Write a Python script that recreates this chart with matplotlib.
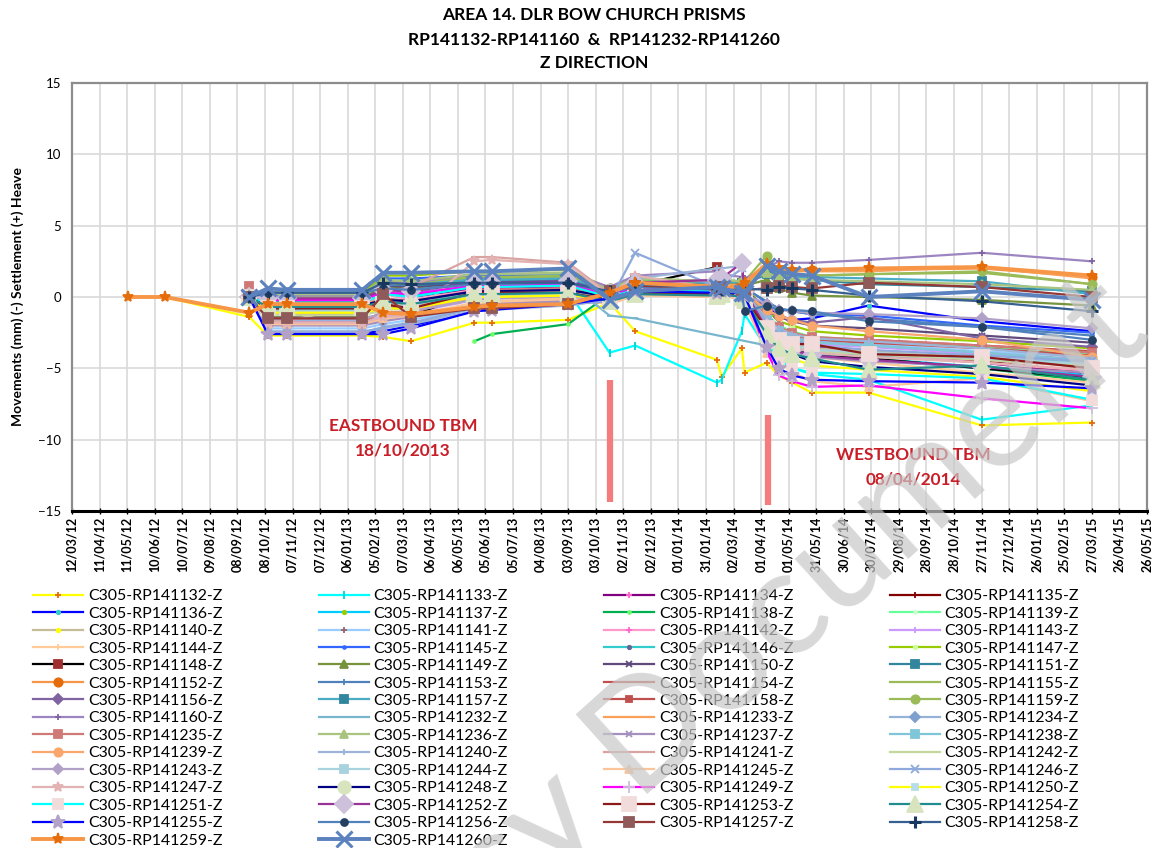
import numpy as np
import pandas as pd
import matplotlib
matplotlib.use("Agg")
import matplotlib.pyplot as plt
import matplotlib.dates as mdates

plt.rcParams['font.family'] = ['Lato', 'DejaVu Sans']

nan = np.nan

# ---------------- data ----------------
dates = ['2012-05-12', '2012-06-21', '2012-09-21', '2012-10-11', '2012-11-01', '2013-01-22',
         '2013-02-14', '2013-03-16', '2013-05-24', '2013-06-12', '2013-09-03', '2013-10-18',
         '2013-11-15', '2014-02-12', '2014-02-17', '2014-03-11', '2014-03-14', '2014-04-07',
         '2014-04-20', '2014-05-05', '2014-05-26', '2014-07-27', '2014-11-27', '2015-03-27']

s132 = [nan, 0.0, -1.4, -2.7, -2.7, -2.7, -2.8, -3.1, -1.8, -1.8, -1.6, -0.4, -2.4, -4.4, -5.6, -3.6, -5.3, -4.6, -5.5, -6.0, -6.7, -6.7, -9.0, -8.8]
s133 = [nan, nan, 0.0, -0.3, -0.3, -0.3, -0.2, -0.2, 0.3, 0.3, 0.4, -3.9, -3.4, -6.0, -5.8, -2.4, -1.2, -3.6, -4.6, -5.0, -5.4, -5.8, -8.6, -7.6]
s134 = [nan, nan, 0.0, 0.1, 0.1, 0.1, 0.4, 0.0, 0.6, 0.6, 0.7, 0.3, 0.6, 0.4, 0.5, 0.6, 0.5, -1.6, -2.6, -3.0, -3.4, -4.0, -4.6, -5.4]
s135 = [nan, nan, 0.0, -0.9, -0.9, -0.9, -0.5, -1.0, 0.2, 0.2, 0.3, 0.0, 0.7, 0.5, 0.6, 0.4, 0.3, -1.8, -2.8, -3.2, -3.6, -3.9, -4.5, -5.3]
s136 = [nan, nan, 0.0, -2.5, -2.5, -2.5, -2.4, -2.0, -1.0, -0.9, -0.3, 0.0, 0.5, 0.6, 0.5, 0.4, 0.2, -0.6, -1.3, -1.6, -1.5, -0.6, -1.7, -2.4]
s137 = [nan, nan, 0.0, -0.4, -0.4, -0.4, 0.3, 0.1, 0.8, 0.8, 0.9, 0.1, 0.9, 0.7, 0.8, 0.6, 0.4, -2.2, -3.0, -3.5, -3.9, -4.3, -4.9, -5.5]
s138 = [nan, nan, nan, nan, nan, nan, nan, nan, -3.1, -2.6, -1.9, 0.2, 0.8, 0.5, 0.6, 0.4, 0.2, -2.0, -3.1, -3.6, -4.0, -4.3, -5.0, -5.9]
s139 = [nan, nan, 0.0, 0.0, 0.0, 0.0, 1.1, 1.2, 1.5, 1.5, 1.6, 0.5, 1.4, 0.9, 1.0, 0.8, 0.6, -1.2, -2.0, -2.4, -2.8, -3.0, -3.5, -4.0]
s140 = [nan, nan, 0.0, -1.2, -1.2, -1.2, -0.9, -0.7, 0.0, 0.0, 0.1, -0.1, 0.5, 0.3, 0.4, 0.2, 0.1, -1.9, -2.7, -3.2, -3.6, -3.8, -4.3, -4.9]
s141 = [nan, nan, 0.0, -2.2, -2.2, -2.2, -1.9, -1.6, -0.8, -0.7, -0.4, -0.2, 0.4, 0.3, 0.4, 0.1, 0.0, -1.5, -2.3, -2.7, -3.0, -3.3, -3.8, -4.2]
s142 = [nan, nan, 0.0, -0.6, -0.6, -0.6, 0.2, -0.2, 0.5, 0.5, 0.6, 0.2, 0.6, 0.4, 0.5, 0.3, 0.2, -2.0, -2.9, -3.3, -3.7, -4.0, -4.6, -5.2]
s143 = [nan, nan, 0.0, -1.7, -1.7, -1.7, -1.4, -1.1, -0.2, -0.1, 0.0, -0.3, 0.3, 0.2, 0.3, 0.1, -0.1, -1.7, -2.5, -2.9, -3.3, -3.5, -4.0, -4.6]
s144 = [nan, nan, 0.0, -1.9, -1.9, -1.9, -1.6, -1.4, -0.5, -0.4, -0.2, -0.3, 0.2, 0.0, 0.1, -0.1, -0.2, -2.4, -3.3, -3.7, -4.2, -4.6, -5.3, -6.0]
s145 = [nan, nan, 0.0, 0.1, 0.1, 0.1, 1.3, 1.3, 1.5, 1.5, 1.5, 0.3, 1.0, 0.8, 0.9, 0.8, 0.7, -0.4, -0.8, -1.0, -1.2, -1.3, -2.0, -2.5]
s146 = [nan, nan, 0.0, -0.2, -0.2, -0.2, 0.6, 0.5, 1.2, 1.2, 1.3, 0.2, 0.8, 0.6, 0.7, 0.5, 0.3, -2.3, -3.2, -3.6, -4.0, -4.4, -5.0, -5.6]
s147 = [nan, nan, 0.0, 0.3, 0.3, 0.3, 1.5, 1.5, 1.8, 1.8, 1.9, 0.6, 1.3, 1.0, 1.1, 0.9, 0.7, -0.9, -1.7, -2.0, -2.4, -2.7, -3.1, -3.6]
s148 = [nan, nan, 0.0, -1.4, -1.4, -1.4, 0.1, -1.3, 0.3, 0.3, 0.4, 0.3, 0.8, 2.1, 0.9, 0.8, 0.6, -2.2, -3.1, -3.6, -4.0, -4.3, -5.0, -5.7]
s149 = [nan, nan, 0.0, -0.1, -0.1, -0.1, 0.7, 0.6, 1.3, 1.3, 1.4, 0.4, 1.1, 0.9, 1.0, 0.9, 0.8, 1.2, 0.6, 0.3, 0.1, 0.0, -0.2, -0.6]
s150 = [nan, nan, 0.0, 0.2, 0.2, 0.2, 0.8, 0.7, 1.0, 1.0, 1.1, 0.2, 0.9, 0.7, 0.8, 0.6, 0.5, -0.8, -1.4, -1.7, -2.0, -2.2, -2.7, -3.2]
s151 = [nan, nan, 0.0, 0.0, 0.0, 0.0, 0.9, 0.8, 1.1, 1.1, 1.2, 0.5, 1.2, 1.0, 1.1, 1.0, 0.9, 1.6, 1.4, 1.3, 1.2, 0.9, 0.7, 0.4]
s152 = [nan, nan, 0.0, -0.8, -0.8, -0.8, -0.5, -0.6, 0.2, 0.2, 0.3, 0.6, 0.9, 0.7, 0.8, 0.7, 0.8, 2.0, 1.8, 1.8, 1.9, 1.9, 2.0, 1.4]
s153 = [nan, nan, 0.0, 0.3, 0.3, 0.3, 0.8, 0.9, 1.0, 1.0, 1.0, 0.4, 1.0, 0.9, 0.8, 0.7, 0.6, -0.3, -0.8, -1.0, -1.2, -1.5, -2.1, -2.7]
s154 = [nan, nan, 0.0, -0.7, -0.7, -0.7, -0.1, -0.3, 0.4, 0.4, 0.5, 0.1, 0.7, 0.5, 0.6, 0.4, 0.3, -1.5, -2.3, -2.8, -3.0, -3.2, -3.6, -4.1]
s155 = [nan, nan, 0.0, 0.0, 0.0, 0.0, 1.0, 0.9, 1.3, 1.3, 1.4, 0.5, 1.2, 1.0, 1.1, 1.0, 1.0, 1.9, 1.6, 1.5, 1.5, 1.6, 1.7, 0.9]
s156 = [nan, nan, 0.0, -0.3, -0.3, -0.3, 0.4, 0.3, 0.7, 0.7, 0.8, 0.2, 0.8, 0.6, 0.7, 0.5, 0.4, -0.9, -1.4, -1.6, -1.8, -1.4, -2.9, -3.5]
s157 = [nan, nan, 0.0, 0.2, 0.2, 0.2, 1.0, 1.0, 1.2, 1.2, 1.3, 0.5, 1.3, 1.0, 1.1, 1.0, 1.0, 1.8, 1.5, 1.4, 1.4, 1.3, 1.1, 0.2]
s158 = [nan, nan, 0.0, -1.0, -1.0, -1.0, -0.3, -0.5, 0.4, 0.4, 0.5, 0.0, 0.6, 0.5, 0.5, 0.3, 0.2, -1.4, -2.2, -2.6, -2.9, -3.0, -3.4, -3.8]
s159 = [nan, nan, 0.0, 0.1, 0.1, 0.1, 1.1, 1.0, 1.4, 1.4, 1.5, 0.6, 1.3, 1.1, 1.2, 1.1, 1.1, 2.9, 1.7, 1.6, 1.5, 1.6, 1.8, 0.9]
s160 = [nan, nan, 0.0, 0.1, 0.1, 0.1, 1.0, 1.0, 1.6, 1.6, 1.7, 0.7, 1.5, 1.8, 1.6, 1.4, 1.3, 2.0, 2.5, 2.4, 2.4, 2.6, 3.1, 2.5]
s232 = [nan, nan, 0.0, -0.5, -0.5, -0.5, 0.3, 0.2, 0.9, 0.9, 1.0, -1.3, -1.5, nan, nan, nan, nan, -3.4, -3.6, -3.8, -4.0, -4.1, -4.3, -4.6]
s233 = [nan, nan, 0.0, -0.5, -0.5, -0.5, -0.2, -0.3, 0.4, 0.4, 0.5, 0.5, 1.0, 0.8, 0.9, 0.8, 0.9, 2.2, 1.9, 1.8, 1.8, 1.8, 2.1, 1.3]
s234 = [nan, nan, 0.0, -1.6, -1.6, -1.6, -1.1, -1.0, -0.1, 0.0, 0.1, -0.1, 0.4, 0.3, 0.4, 0.2, 0.1, -1.6, -2.4, -2.8, -3.1, -3.4, -3.9, -4.4]
s235 = [nan, nan, 0.8, -1.8, -1.8, -1.8, -1.0, -1.2, 0.5, 0.5, 0.6, 0.3, 0.9, 0.6, 0.7, 0.5, 0.4, -1.4, -2.1, -2.5, -2.8, -3.0, -3.4, -3.9]
s236 = [nan, nan, 0.0, 0.2, 0.2, 0.2, 1.2, 1.1, 1.6, 1.6, 1.7, 0.5, 1.3, 1.1, 1.2, 1.1, 1.0, 1.7, 1.4, 1.3, 1.2, 1.1, 0.9, 0.5]
s237 = [nan, nan, 0.0, -2.0, -2.0, -2.0, -1.7, -1.4, -0.6, -0.5, -0.3, -0.4, 0.2, 0.1, 0.2, -0.1, -0.3, -2.4, -3.3, -3.8, -4.2, -4.5, -4.9, -5.3]
s238 = [nan, nan, 0.0, -0.9, -0.9, -0.9, -0.4, -0.5, 0.3, 0.3, 0.4, 0.0, 0.6, 0.4, 0.5, 0.3, 0.2, -1.6, -2.4, -2.9, -3.2, -3.4, -3.9, -4.5]
s239 = [nan, nan, 0.0, -1.1, -1.1, -1.1, -0.8, -0.9, 0.0, 0.0, 0.1, 0.3, 0.6, 0.4, 0.5, 0.4, 0.3, -0.9, -1.3, -1.6, -2.0, -2.4, -3.0, -4.2]
s240 = [nan, nan, 0.0, -2.4, -2.4, -2.4, -2.2, -1.9, -1.0, -0.9, -0.6, -0.2, 1.3, 2.0, 2.0, 2.2, 0.3, -1.5, -2.2, -2.6, -2.9, -3.1, -3.6, -4.3]
s241 = [nan, nan, 0.0, -1.7, -1.7, -0.5, 0.3, 0.7, 2.8, 2.8, 2.4, 0.2, 0.9, 0.6, 0.7, 0.5, 0.4, -2.0, -2.8, -3.3, -3.7, -4.0, -4.4, -4.9]
s242 = [nan, nan, 0.0, -1.3, -1.3, -1.3, -0.9, -0.8, 0.1, 0.1, 0.2, 0.0, 0.5, 0.3, 0.4, 0.2, 0.1, -2.0, -2.9, -3.4, -3.8, -4.0, -4.4, -4.8]
s243 = [nan, nan, 0.0, -1.5, -1.5, -1.5, -1.2, -1.0, -0.2, -0.1, 0.0, 0.0, 0.5, 0.3, 0.4, 0.3, 0.2, -0.5, -0.9, -1.0, -1.1, -1.2, -1.5, -2.2]
s244 = [nan, nan, 0.0, -1.0, -1.0, -1.0, -0.6, -0.6, 0.2, 0.2, 0.3, -0.2, 0.3, 0.2, 0.3, 0.1, 0.0, -2.1, -2.9, -3.3, -3.7, -3.9, -4.3, -4.7]
s245 = [nan, nan, 0.0, -1.9, -1.9, -1.9, -1.5, -1.3, -0.4, -0.3, -0.1, -0.5, 0.1, 0.0, 0.1, -0.2, -0.4, -3.9, -4.4, -5.3, -5.9, -6.3, -5.7, -7.3]
s246 = [nan, nan, 0.0, -2.5, -2.5, -2.5, -2.1, -1.8, -0.8, -0.7, -0.5, -0.3, 3.1, 0.7, 0.9, 2.0, 0.3, -1.8, -2.6, -3.0, -3.4, -3.7, -4.1, -4.5]
s247 = [nan, nan, 0.0, -1.8, -1.8, -1.8, -1.4, -1.3, 2.5, 2.6, 2.3, 0.1, 1.5, 0.6, 0.7, 0.4, 0.3, -2.1, -3.0, -3.5, -3.9, -4.2, -4.6, -5.1]
s248 = [nan, nan, 0.0, -0.6, -0.6, -0.6, -0.2, -0.3, 0.4, 0.4, 0.5, 0.0, 0.5, 0.3, 0.4, 0.2, 0.1, -2.4, -3.5, -4.0, -4.5, -4.9, -5.4, -6.2]
s249 = [nan, nan, 0.0, -0.2, -0.2, -0.2, 0.3, 0.2, 0.8, 0.8, 0.9, 0.1, 0.7, 0.5, 0.6, 0.4, 0.2, -3.8, -5.5, -5.9, -6.3, -6.2, -7.1, -7.8]
s250 = [nan, nan, 0.0, -1.1, -1.1, -1.1, -0.8, -0.8, 0.0, 0.0, 0.1, -0.1, 0.4, 0.2, 0.3, 0.1, 0.0, -2.6, -3.7, -4.3, -4.8, -5.1, -5.6, -6.6]
s251 = [nan, nan, 0.0, -0.4, -0.4, -0.4, 0.2, 0.0, 0.7, 0.7, 0.8, 0.0, 0.5, 0.4, 0.5, 0.3, 0.1, -3.2, -4.4, -5.0, -5.3, -5.4, -5.7, -7.2]
s252 = [nan, nan, 0.0, -0.1, -0.1, -0.1, 0.5, 0.4, 1.0, 1.0, 1.1, 0.3, 1.0, 1.2, 1.3, 2.4, 0.4, -2.2, -3.2, -3.7, -4.1, -4.4, -4.9, -5.6]
s253 = [nan, nan, 0.0, -0.8, -0.8, -0.8, -0.5, -0.8, 0.3, 0.3, 0.3, -0.2, 0.3, 0.2, 0.3, 0.1, -0.1, -2.2, -3.0, -3.3, -3.3, -4.0, -4.2, -5.0]
s254 = [nan, nan, 0.0, -0.7, -0.7, -0.7, -0.3, -0.5, 0.2, 0.2, 0.3, -0.3, 0.2, 0.1, 0.2, 0.0, -0.2, -2.6, -3.6, -4.0, -4.3, -5.1, -4.8, -5.8]
s255 = [nan, nan, 0.0, -2.6, -2.6, -2.6, -2.6, -2.2, -1.0, -0.9, -0.5, -0.1, 0.4, 0.3, 0.4, 0.2, 0.1, -3.5, -5.0, -5.5, -5.8, -5.9, -6.0, -6.4]
s256 = [nan, nan, 0.0, 0.3, 0.3, 0.3, 0.6, 0.5, 0.9, 0.9, 1.0, 0.3, 0.7, 0.5, 0.4, 0.3, -1.0, -0.6, -0.9, -0.9, -1.0, -1.7, -2.1, -3.0]
s257 = [nan, nan, 0.0, -1.5, -1.5, -1.5, 0.2, -1.4, -0.8, -0.8, -0.5, 0.4, 0.8, 0.6, 0.7, 0.5, 0.5, 0.6, 0.8, 0.7, 0.6, 1.0, 0.7, 0.0]
s258 = [nan, nan, 0.0, 0.3, 0.3, 0.3, 1.0, 0.9, 1.0, 1.0, 1.0, 0.4, 0.9, 0.6, 0.5, 0.5, 0.6, 0.5, 0.7, 0.6, 0.5, 0.1, -0.3, -1.0]
s259 = [0.0, 0.0, -1.1, -0.5, -0.5, -0.5, -1.1, -1.2, -0.7, -0.6, -0.5, 0.3, 1.0, 0.7, 0.6, 0.8, 1.0, 2.3, 2.0, 1.9, 1.9, 2.0, 2.1, 1.5]
s260 = [nan, nan, 0.0, 0.6, 0.5, 0.5, 1.7, 1.7, 1.8, 1.8, 2.0, -0.2, 0.4, 0.7, 0.6, 0.3, 0.3, 2.2, 1.8, 1.6, 1.5, 0.0, 0.4, -0.2]

prism_ids = [132, 133, 134, 135, 136, 137, 138, 139, 140, 141, 142, 143, 144, 145, 146, 147,
             148, 149, 150, 151, 152, 153, 154, 155, 156, 157, 158, 159, 160,
             232, 233, 234, 235, 236, 237, 238, 239, 240, 241, 242, 243, 244, 245, 246, 247,
             248, 249, 250, 251, 252, 253, 254, 255, 256, 257, 258, 259, 260]
series_values = [s132, s133, s134, s135, s136, s137, s138, s139, s140, s141, s142, s143, s144,
                 s145, s146, s147, s148, s149, s150, s151, s152, s153, s154, s155, s156, s157,
                 s158, s159, s160, s232, s233, s234, s235, s236, s237, s238, s239, s240, s241,
                 s242, s243, s244, s245, s246, s247, s248, s249, s250, s251, s252, s253, s254,
                 s255, s256, s257, s258, s259, s260]

tbm_dates = ['2013-10-18', '2014-04-08']

# ---------------- styles (line colour, marker, marker colour, marker size, line width) ----------------
styles = [
    ('#FFFF00', '+', '#E46C0A', 5, 1.6),
    ('#00FFFF', '|', '#00D0D0', 6, 1.6),
    ('#800080', '+', '#FF66CC', 4, 1.6),
    ('#800000', '+', '#800000', 4, 1.6),
    ('#0000FF', 'o', '#33CCCC', 2.5, 1.6),
    ('#00CCFF', 'o', '#99CC00', 2.5, 1.6),
    ('#00B050', 'o', '#66FF66', 2, 1.6),
    ('#66FF99', 'o', '#CCFFCC', 2, 1.6),
    ('#C4BD97', 'o', '#FFFF00', 2.5, 1.6),
    ('#99CCFF', '+', '#996666', 4, 1.6),
    ('#FF99CC', '+', '#FF66CC', 5, 1.6),
    ('#CC99FF', '+', '#CC99FF', 4, 1.6),
    ('#FFCC99', '+', '#FFCC99', 4, 1.6),
    ('#3366FF', 'o', '#3366FF', 2, 1.6),
    ('#33CCCC', 'o', '#666699', 2.5, 1.6),
    ('#99CC00', 'o', '#CCFF99', 2.5, 1.6),
    ('#000000', 's', '#A0302D', 6, 1.6),
    ('#77933C', '^', '#77933C', 6, 1.6),
    ('#604A7B', 'x', '#604A7B', 5, 1.6),
    ('#31859C', 's', '#31859C', 6, 1.6),
    ('#F79646', 'o', '#E46C0A', 6, 1.6),
    ('#4F81BD', '+', '#4F81BD', 5, 1.6),
    ('#C0504D', '_', '#C0504D', 4, 1.6),
    ('#9BBB59', '_', '#9BBB59', 4, 1.6),
    ('#8064A2', 'D', '#8064A2', 5, 1.6),
    ('#4BACC6', 's', '#31859C', 6, 1.6),
    ('#C0504D', 's', '#C0504D', 5, 1.6),
    ('#9BBB59', 'o', '#9BBB59', 6, 1.6),
    ('#9C85C0', '+', '#8064A2', 5, 1.6),
    ('#78B6CE', '_', '#78B6CE', 4, 1.6),
    ('#F9A15A', '_', '#F9A15A', 4, 1.6),
    ('#95B3D7', 'D', '#7F9FCF', 5, 1.6),
    ('#D07A78', 's', '#D07A78', 6, 1.6),
    ('#A9C47F', '^', '#A9C47F', 6, 1.6),
    ('#A48FBF', 'x', '#A48FBF', 5, 1.6),
    ('#7FC6D9', 's', '#7FC6D9', 6, 1.6),
    ('#F9A76C', 'o', '#F9A76C', 6, 1.6),
    ('#9DB3D8', '+', '#9DB3D8', 5, 1.6),
    ('#D9A3A2', '_', '#D9A3A2', 4, 1.6),
    ('#C3D69B', '_', '#C3D69B', 4, 1.6),
    ('#B2A1C7', 'D', '#B2A1C7', 5, 1.6),
    ('#A9D2DF', 's', '#A9D2DF', 6, 1.6),
    ('#FBC49A', '^', '#FBC49A', 6, 1.6),
    ('#8EA9DB', 'x', '#8EA9DB', 6, 1.6),
    ('#E2B3B2', '*', '#E2B3B2', 7, 1.6),
    ('#000080', 'o', '#D7E4BD', 9, 1.6),
    ('#FF00FF', '+', '#CCC0DA', 8, 1.6),
    ('#FFFF00', 's', '#B7DEE8', 4, 1.6),
    ('#00FFFF', 's', '#F2DCDB', 7, 1.6),
    ('#993399', 'D', '#CCC0DA', 9, 1.6),
    ('#8B1A1A', 's', '#F2DCDB', 10, 1.6),
    ('#218C8D', '^', '#D7E4BD', 11, 1.6),
    ('#0000FF', '*', '#B3A2C7', 10, 1.6),
    ('#4F81BD', 'o', '#254061', 5, 1.6),
    ('#953735', 's', '#8F5A5A', 7, 1.6),
    ('#376092', '+', '#17375E', 9, 1.6),
    ('#F79646', '*', '#E46C0A', 8, 2.8),
    ('#5B82BE', 'x', '#5B82BE', 12, 2.8),
]

W, H = 1160, 848
fig = plt.figure(figsize=(W / 100, H / 100), dpi=100)
ax = fig.add_axes([72 / W, 1 - 511 / H, (1147 - 72) / W, (511 - 83) / H])

x_dates = pd.to_datetime(dates)
handles = []
for pid, vals, st in zip(prism_ids, series_values, styles):
    col, mk, mc, ms, lw = st
    v = np.array(vals, dtype=float)
    m = ~np.isnan(v)
    mew = 2.2 if pid in (258, 260) else 1.3
    h, = ax.plot(x_dates[m], v[m], color=col, lw=lw, marker=mk, ms=ms,
                 mfc=mc, mec=mc, mew=mew, solid_joinstyle='round',
                 label='C305-RP141%d-Z' % pid)
    handles.append(h)

# TBM markers
tbm = pd.to_datetime(tbm_dates)
ax.vlines(tbm, ymin=[-14.4, -14.6], ymax=[-5.8, -8.3], colors='#F47C7C', lw=4.5, zorder=1)

ax.set_ylim(-15, 15)
ax.set_yticks(range(-15, 16, 5))
ax.set_xlim(pd.Timestamp('2012-03-12'), pd.Timestamp('2015-05-26'))
ax.set_xticks(pd.date_range('2012-03-12', '2015-05-26', freq='30D'))
ax.xaxis.set_major_formatter(mdates.DateFormatter('%d/%m/%y'))
ax.grid(True, color='#D9D9D9', lw=1.2)
ax.set_axisbelow(True)
for side in ('left', 'top', 'right'):
    ax.spines[side].set_color('#8C8C8C')
    ax.spines[side].set_linewidth(1.6)
ax.spines['bottom'].set_color('black')
ax.spines['bottom'].set_linewidth(2.2)
ax.tick_params(axis='x', labelrotation=90, labelsize=9, length=4, direction='inout', width=1, pad=2)
ax.tick_params(axis='y', labelsize=9.5, length=0, pad=8)
for lab in ax.get_xticklabels():
    lab.set_fontweight('bold')

# titles and labels
fig.text(594 / W, 1 - 15 / H, 'AREA 14. DLR BOW CHURCH PRISMS', ha='center', va='center',
         fontsize=12.5, fontweight='bold')
fig.text(594 / W, 1 - 40 / H, 'RP141132-RP141160  &  RP141232-RP141260', ha='center', va='center',
         fontsize=12.5, fontweight='bold')
fig.text(594 / W, 1 - 63 / H, 'Z DIRECTION', ha='center', va='center', fontsize=12.5, fontweight='bold')
fig.text(18 / W, 1 - 297 / H, 'Movements (mm) (-) Settlement (+) Heave', rotation=90,
         ha='center', va='center', fontsize=10, fontweight='bold')

fig.text(403 / W, 1 - 438 / H, 'EASTBOUND TBM\n18/10/2013', ha='center', va='center',
         fontsize=12.4, fontweight='bold', color='#C81E28', linespacing=1.65)
fig.text(913 / W, 1 - 467 / H, 'WESTBOUND TBM\n08/04/2014', ha='center', va='center',
         fontsize=12.4, fontweight='bold', color='#C81E28', linespacing=1.65)

# watermark
fig.text(1154 / W, 1 - 338 / H, 'Legacy Document', rotation=42, rotation_mode='anchor',
         ha='right', va='baseline', fontsize=108, color='#C8C8C8', alpha=0.7,
         family='Lato', zorder=10)

# legend (row-major ordering in 4 columns)
n = len(handles)
order = [i for c in range(4) for i in range(c, n, 4)]
fig.legend([handles[i] for i in order], [handles[i].get_label() for i in order],
           loc='upper left', bbox_to_anchor=(33 / W, 1 - 589 / H), ncol=4, frameon=False,
           fontsize=11.4, handlelength=3.16, handletextpad=0.32, columnspacing=6.05,
           labelspacing=0.215, borderpad=0, borderaxespad=0, numpoints=1)

fig.savefig('out.png', dpi=100)
